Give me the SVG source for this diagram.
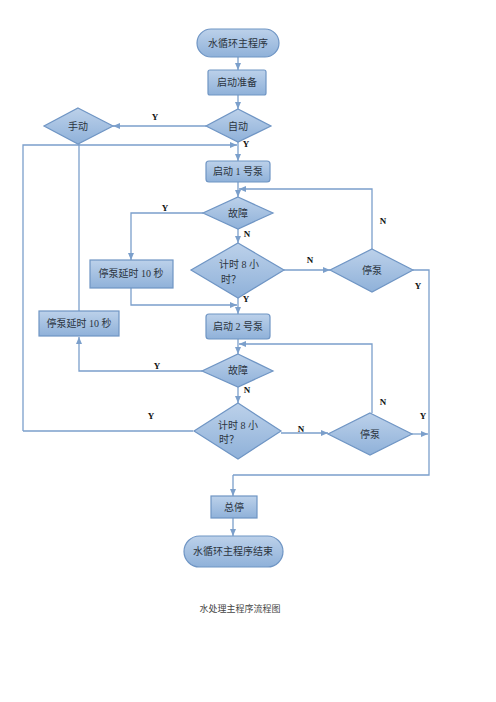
<svg xmlns="http://www.w3.org/2000/svg" width="496" height="702" viewBox="0 0 496 702">
<defs>
<linearGradient id="g" x1="0" y1="0" x2="0" y2="1">
<stop offset="0" stop-color="#bcd1ea"/>
<stop offset="1" stop-color="#8fb1d9"/>
</linearGradient>
<marker id="a" markerWidth="8" markerHeight="8" refX="7" refY="4" orient="auto" markerUnits="userSpaceOnUse">
<path d="M0,1 L7,4 L0,7 Z" fill="#7b9fcb"/>
</marker>
<style>
.s{fill:url(#g);stroke:#6f95c4;stroke-width:1.2}
.t{font-family:"Liberation Serif","Noto Sans CJK SC",serif;font-size:10px;fill:#2b3440;text-anchor:middle}
.c{fill:none;stroke:#7b9fcb;stroke-width:1.3}
.ca{fill:none;stroke:#7b9fcb;stroke-width:1.3;marker-end:url(#a)}
.l{font-family:"Liberation Serif",serif;font-size:9px;font-weight:bold;fill:#111;text-anchor:middle}
</style>
</defs>
<rect width="496" height="702" fill="#fff"/>
<g id="connectors">
<path class="ca" d="M238,57 V70"/>
<path class="ca" d="M238,95 V109"/>
<path class="ca" d="M206,126 H113"/>
<path class="ca" d="M238,142 V161"/>
<path class="ca" d="M23,431 V145 H237"/>
<path class="c" d="M193,431 H23"/>
<path class="ca" d="M238,182 V197"/>
<path class="ca" d="M203,213 H131 V260"/>
<path class="ca" d="M131,288 V305 H237"/>
<path class="ca" d="M238,229 V243"/>
<path class="ca" d="M238,298 V314"/>
<path class="ca" d="M284,270 H330"/>
<path class="ca" d="M372,249 V189 H239"/>
<path class="c" d="M413,270 H429 V475 H233"/>
<path class="ca" d="M233,475 V496"/>
<path class="c" d="M79,144 V311"/>
<path class="ca" d="M202,371 H79 V337"/>
<path class="ca" d="M238,339 V354"/>
<path class="ca" d="M372,413 V344 H239"/>
<path class="ca" d="M238,387 V403"/>
<path class="ca" d="M281,433 H328"/>
<path class="ca" d="M412,434 H428"/>
<path class="ca" d="M233,518 V536"/>
</g>
<g id="labels">
<text class="l" x="155" y="120">Y</text>
<text class="l" x="246" y="147">Y</text>
<text class="l" x="165" y="211">Y</text>
<text class="l" x="247" y="237">N</text>
<text class="l" x="246" y="302">Y</text>
<text class="l" x="310" y="263">N</text>
<text class="l" x="383" y="224">N</text>
<text class="l" x="418" y="289">Y</text>
<text class="l" x="157" y="369">Y</text>
<text class="l" x="247" y="393">N</text>
<text class="l" x="151" y="419">Y</text>
<text class="l" x="301" y="432">N</text>
<text class="l" x="383" y="405">N</text>
<text class="l" x="423" y="419">Y</text>
</g>
<g id="start"><rect class="s" x="197" y="29" width="82" height="28" rx="14"/><text class="t" x="238" y="47">水循环主程序</text></g>
<g id="prep"><rect class="s" x="208" y="70" width="58" height="25" rx="2"/><text class="t" x="237" y="86">启动准备</text></g>
<g id="auto"><polygon class="s" points="238,109 271,126 238,142 206,126"/><text class="t" x="238" y="130">自动</text></g>
<g id="manual"><polygon class="s" points="78,108 113,126 78,144 44,126"/><text class="t" x="78" y="130">手动</text></g>
<g id="pump1"><rect class="s" x="206" y="161" width="64" height="21" rx="3"/><text class="t" x="238" y="175">启动 1 号泵</text></g>
<g id="fault1"><polygon class="s" points="238,197 273,213 238,229 203,213"/><text class="t" x="238" y="217">故障</text></g>
<g id="delay1"><rect class="s" x="90" y="260" width="83" height="28"/><text class="t" x="131" y="277">停泵延时 10 秒</text></g>
<g id="timer1"><polygon class="s" points="238,243 284,270 238,298 191,270"/><text class="t" x="239" y="268">计时 8 小</text><text class="t" x="231" y="283">时？</text></g>
<g id="stop1"><polygon class="s" points="372,249 413,270 372,292 330,270"/><text class="t" x="372" y="274">停泵</text></g>
<g id="delay2"><rect class="s" x="39" y="311" width="80" height="25"/><text class="t" x="79" y="327">停泵延时 10 秒</text></g>
<g id="pump2"><rect class="s" x="206" y="314" width="64" height="25" rx="3"/><text class="t" x="238" y="330">启动 2 号泵</text></g>
<g id="fault2"><polygon class="s" points="238,354 273,371 238,387 202,371"/><text class="t" x="238" y="374">故障</text></g>
<g id="timer2"><polygon class="s" points="238,403 281,431 238,459 194,431"/><text class="t" x="238" y="429">计时 8 小</text><text class="t" x="229" y="443">时？</text></g>
<g id="stop2"><polygon class="s" points="370,413 412,434 370,455 328,434"/><text class="t" x="370" y="438">停泵</text></g>
<g id="allstop"><rect class="s" x="211" y="496" width="46" height="22"/><text class="t" x="234" y="511">总停</text></g>
<g id="end"><rect class="s" x="184" y="536" width="99" height="31" rx="15.5"/><text class="t" x="233" y="555">水循环主程序结束</text></g>
<text x="240" y="612" style="font-family:'Liberation Serif','Noto Sans CJK SC',serif;font-size:9px;fill:#444;text-anchor:middle">水处理主程序流程图</text>
</svg>
